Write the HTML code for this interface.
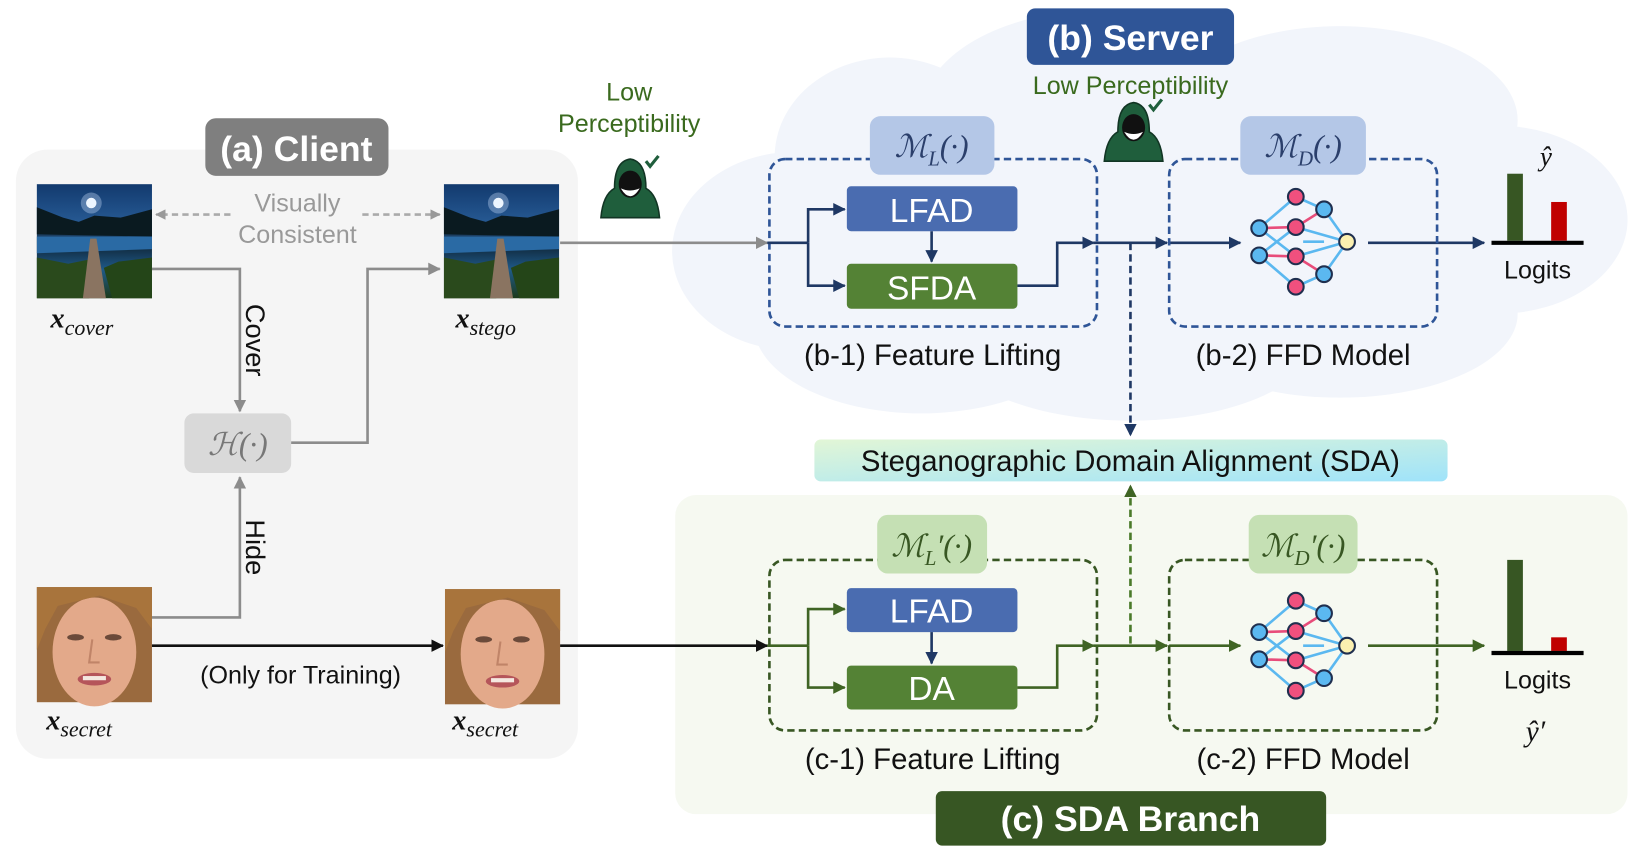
<!DOCTYPE html>
<html><head><meta charset="utf-8">
<style>
html,body{margin:0;padding:0;background:#fff;width:1633px;height:855px;overflow:hidden}
svg{display:block}
text{font-family:"Liberation Sans",sans-serif}
.m{font-family:"Liberation Serif","DejaVu Serif",serif;font-style:italic}
</style></head><body>
<svg width="1633" height="855" viewBox="0 0 1560 817" xmlns="http://www.w3.org/2000/svg">
<defs>
<marker id="aG" markerWidth="10" markerHeight="10" refX="9" refY="5" orient="auto" markerUnits="userSpaceOnUse"><path d="M0,0 L10,5 L0,10z" fill="#999"/></marker>
<marker id="aK" markerWidth="12" markerHeight="12" refX="11" refY="6" orient="auto" markerUnits="userSpaceOnUse"><path d="M0,0 L12,6 L0,12z" fill="#111"/></marker>
<marker id="aN" markerWidth="12" markerHeight="12" refX="11" refY="6" orient="auto" markerUnits="userSpaceOnUse"><path d="M0,0 L12,6 L0,12z" fill="#1f3864"/></marker>
<marker id="aV" markerWidth="12" markerHeight="12" refX="11" refY="6" orient="auto" markerUnits="userSpaceOnUse"><path d="M0,0 L12,6 L0,12z" fill="#3f6424"/></marker>
<marker id="aGr" markerWidth="12" markerHeight="12" refX="11" refY="6" orient="auto" markerUnits="userSpaceOnUse"><path d="M0,0 L12,6 L0,12z" fill="#8c8c8c"/></marker>
<linearGradient id="sky" x1="0" y1="0" x2="0" y2="1"><stop offset="0" stop-color="#123a6e"/><stop offset="0.4" stop-color="#2a5f9a"/><stop offset="0.5" stop-color="#0d1f2c"/><stop offset="0.75" stop-color="#1f5a8a"/><stop offset="1" stop-color="#1c3a1a"/></linearGradient>
<linearGradient id="sda" x1="0" y1="0" x2="1" y2="1"><stop offset="0" stop-color="#e2f6d6"/><stop offset="1" stop-color="#9fe3fa"/></linearGradient>
<g id="land">
<rect width="110" height="109" fill="url(#sky)"/>
<circle cx="52" cy="18" r="10" fill="#cfe3ff" opacity="0.35"/><circle cx="52" cy="18" r="5" fill="#eef6ff"/>
<path d="M0,22 L25,32 L40,36 L55,30 L80,32 L110,24 L110,50 L0,48z" fill="#0a1a20"/>
<path d="M0,50 L110,50 L110,62 L0,66z" fill="#2a6aa4"/>
<path d="M0,70 L30,76 L50,72 L60,80 L50,109 L0,109z" fill="#2a4a1c"/>
<path d="M110,70 L78,74 L64,80 L72,109 L110,109z" fill="#244518"/>
<path d="M51,52 L57,52 L66,109 L44,109z" fill="#8a7461"/>
</g>
<g id="face">
<rect width="110" height="110" fill="#9a6a3e"/>
<ellipse cx="55" cy="62" rx="40" ry="52" fill="#e3a98a"/>
<path d="M0,0 L110,0 L110,40 L95,20 L60,8 L20,18 L8,40 L0,60z" fill="#a8743c"/>
<ellipse cx="37" cy="48" rx="8" ry="3" fill="#6b4a3a"/><ellipse cx="73" cy="48" rx="8" ry="3" fill="#6b4a3a"/>
<path d="M53,50 L50,72 L60,72" stroke="#c08468" stroke-width="2" fill="none"/>
<ellipse cx="55" cy="88" rx="16" ry="6" fill="#b5555a"/><rect x="44" y="85" width="22" height="4" fill="#f4e8e0"/>
</g>
<g id="hack">
<path d="M-28,28 Q-26,6 -15,0 Q-15,-26 0,-28 Q15,-26 15,0 Q26,6 28,28z" fill="#1f5e3c" stroke="#123524" stroke-width="1.5"/>
<ellipse cx="0" cy="-4" rx="11" ry="13" fill="#111"/>
<path d="M-9,0 Q0,15 9,0 Q0,4 -9,0z" fill="#fff"/>
<path d="M15,-26 L19,-21 L27,-31" stroke="#1f5e3c" stroke-width="3" fill="none"/>
</g>
<g id="nn">
<g stroke="#5bb8f0" stroke-width="2.5">
<line x1="-37" y1="-13" x2="-2" y2="-43"/><line x1="-37" y1="13" x2="-2" y2="43"/>
<line x1="-37" y1="-13" x2="-2" y2="14"/><line x1="-37" y1="13" x2="-2" y2="-14"/>
<line x1="-2" y1="-43" x2="25" y2="-31"/><line x1="-2" y1="43" x2="25" y2="31"/>
<line x1="-2" y1="-14" x2="47" y2="0"/><line x1="-2" y1="14" x2="47" y2="0"/>
<line x1="25" y1="-31" x2="47" y2="0"/><line x1="25" y1="31" x2="47" y2="0"/>
<line x1="5" y1="0" x2="25" y2="0"/>
</g>
<g stroke="#e84c7a" stroke-width="2.5"><line x1="-37" y1="-13" x2="-2" y2="-14"/><line x1="-37" y1="13" x2="-2" y2="14"/><line x1="-2" y1="-14" x2="25" y2="-31"/><line x1="-2" y1="14" x2="25" y2="31"/></g>
<g stroke="#1f2f4f" stroke-width="2">
<circle cx="-37" cy="-13" r="7.5" fill="#5bb8f0"/><circle cx="-37" cy="13" r="7.5" fill="#5bb8f0"/>
<circle cx="-2" cy="-43" r="7.5" fill="#f0507e"/><circle cx="-2" cy="-14" r="7.5" fill="#f0507e"/>
<circle cx="-2" cy="14" r="7.5" fill="#f0507e"/><circle cx="-2" cy="43" r="7.5" fill="#f0507e"/>
<circle cx="25" cy="-31" r="7.5" fill="#5bb8f0"/><circle cx="25" cy="31" r="7.5" fill="#5bb8f0"/>
<circle cx="47" cy="0" r="7.5" fill="#fbf0b0"/>
</g>
</g>
</defs>

<!-- cloud -->
<g fill="#f2f5fb">
<ellipse cx="850" cy="150" rx="110" ry="95"/>
<ellipse cx="1050" cy="110" rx="170" ry="100"/>
<ellipse cx="1280" cy="115" rx="170" ry="90"/>
<ellipse cx="1430" cy="210" rx="125" ry="90"/>
<ellipse cx="760" cy="240" rx="118" ry="95"/>
<ellipse cx="880" cy="310" rx="160" ry="85"/>
<ellipse cx="1080" cy="320" rx="180" ry="82"/>
<ellipse cx="1280" cy="300" rx="170" ry="80"/>
<ellipse cx="1100" cy="220" rx="400" ry="120"/>
</g>

<!-- client panel -->
<rect x="15" y="143" width="537" height="582" rx="30" fill="#f5f5f5"/>
<rect x="196" y="113" width="175" height="55" rx="10" fill="#7f7f7f"/>
<text x="283" y="154" font-size="34" font-weight="bold" fill="#fff" text-anchor="middle">(a) Client</text>

<use href="#land" x="35" y="176"/>
<use href="#land" x="424" y="176"/>
<use href="#face" x="35" y="561"/>
<use href="#face" x="425" y="563"/>

<text x="48" y="313" class="m" font-size="24" fill="#111"><tspan font-weight="bold" font-size="27">x</tspan><tspan dy="7" font-size="21">cover</tspan></text>
<text x="435" y="313" class="m" font-size="24" fill="#111"><tspan font-weight="bold" font-size="27">x</tspan><tspan dy="7" font-size="21">stego</tspan></text>
<text x="44" y="697" class="m" font-size="24" fill="#111"><tspan font-weight="bold" font-size="27">x</tspan><tspan dy="7" font-size="21">secret</tspan></text>
<text x="432" y="697" class="m" font-size="24" fill="#111"><tspan font-weight="bold" font-size="27">x</tspan><tspan dy="7" font-size="21">secret</tspan></text>

<text x="284" y="202" font-size="24" fill="#999" text-anchor="middle">Visually</text>
<text x="284" y="232" font-size="24" fill="#999" text-anchor="middle">Consistent</text>
<line x1="220" y1="205" x2="149" y2="205" stroke="#aaa" stroke-width="2.5" stroke-dasharray="6,4" marker-end="url(#aG)"/>
<line x1="346" y1="205" x2="420" y2="205" stroke="#aaa" stroke-width="2.5" stroke-dasharray="6,4" marker-end="url(#aG)"/>

<polyline points="145,257 229,257 229,393" fill="none" stroke="#8c8c8c" stroke-width="2.5" marker-end="url(#aGr)"/>
<text transform="translate(235,325) rotate(90)" font-size="26" fill="#111" text-anchor="middle">Cover</text>
<rect x="176" y="395" width="102" height="57" rx="9" fill="#d9d9d9"/>
<text x="227" y="435" class="m" font-size="30" fill="#777" text-anchor="middle">ℋ(·)</text>
<polyline points="278,423 351,423 351,257 420,257" fill="none" stroke="#8c8c8c" stroke-width="2.5" marker-end="url(#aGr)"/>
<polyline points="145,590 229,590 229,456" fill="none" stroke="#8c8c8c" stroke-width="2.5" marker-end="url(#aGr)"/>
<text transform="translate(235,523) rotate(90)" font-size="26" fill="#111" text-anchor="middle">Hide</text>
<line x1="145" y1="617" x2="423" y2="617" stroke="#111" stroke-width="2.5" marker-end="url(#aK)"/>
<text x="287" y="653" font-size="24" fill="#111" text-anchor="middle">(Only for Training)</text>
<line x1="535" y1="232" x2="733" y2="232" stroke="#8c8c8c" stroke-width="2.5" marker-end="url(#aGr)"/>

<text x="601" y="96" font-size="24" fill="#3a6a1e" text-anchor="middle">Low</text>
<text x="601" y="126" font-size="24" fill="#3a6a1e" text-anchor="middle">Perceptibility</text>
<use href="#hack" x="602" y="180"/>
<use href="#hack" x="1083" y="126"/>

<!-- server -->
<rect x="981" y="8" width="198" height="54" rx="8" fill="#2f5597"/>
<text x="1080" y="48" font-size="34" font-weight="bold" fill="#fff" text-anchor="middle">(b) Server</text>
<text x="1080" y="90" font-size="24" fill="#3a6a1e" text-anchor="middle">Low Perceptibility</text>

<rect x="735" y="152" width="313" height="160" rx="15" fill="none" stroke="#2f5597" stroke-width="2.5" stroke-dasharray="7,4"/>
<rect x="831" y="111" width="119" height="56" rx="10" fill="#b4c7e7"/>
<text x="890" y="150" class="m" font-size="30" fill="#2b3f6b" text-anchor="middle">ℳ<tspan font-size="20" dy="8">L</tspan><tspan dy="-8">(·)</tspan></text>
<rect x="809" y="178" width="163" height="43" rx="4" fill="#4a6cb0"/>
<text x="890" y="212" font-size="32" fill="#fff" text-anchor="middle">LFAD</text>
<rect x="809" y="252" width="163" height="43" rx="4" fill="#548235"/>
<text x="890" y="286" font-size="32" fill="#fff" text-anchor="middle">SFDA</text>
<g stroke="#1f3864" stroke-width="2.5" fill="none">
<polyline points="733,232 772,232"/>
<polyline points="772,232 772,200 807,200" marker-end="url(#aN)"/>
<polyline points="772,232 772,273 807,273" marker-end="url(#aN)"/>
<line x1="890" y1="221" x2="890" y2="250" marker-end="url(#aN)"/>
<polyline points="972,273 1010,273 1010,232 1045,232" marker-end="url(#aN)"/>
<line x1="1045" y1="232" x2="1115" y2="232" marker-end="url(#aN)"/>
<line x1="1117" y1="232" x2="1185" y2="232" marker-end="url(#aN)"/>
<line x1="1307" y1="232" x2="1418" y2="232" marker-end="url(#aN)"/>
<line x1="1080" y1="232" x2="1080" y2="416" stroke-dasharray="7,4" marker-end="url(#aN)"/>
</g>
<rect x="1117" y="152" width="256" height="160" rx="15" fill="none" stroke="#2f5597" stroke-width="2.5" stroke-dasharray="7,4"/>
<rect x="1185" y="111" width="120" height="56" rx="10" fill="#b4c7e7"/>
<text x="1245" y="150" class="m" font-size="30" fill="#2b3f6b" text-anchor="middle">ℳ<tspan font-size="20" dy="8">D</tspan><tspan dy="-8">(·)</tspan></text>
<use href="#nn" x="1240" y="231"/>
<rect x="1440" y="166" width="15" height="64" fill="#375623"/>
<rect x="1482" y="193" width="15" height="37" fill="#c00000"/>
<line x1="1425" y1="232" x2="1513" y2="232" stroke="#000" stroke-width="4"/>
<text x="1477" y="158" class="m" font-size="26" fill="#111" text-anchor="middle">ŷ</text>
<text x="1469" y="266" font-size="24" fill="#111" text-anchor="middle">Logits</text>
<text x="891" y="349" font-size="28" fill="#111" text-anchor="middle">(b-1) Feature Lifting</text>
<text x="1245" y="349" font-size="28" fill="#111" text-anchor="middle">(b-2) FFD Model</text>

<!-- SDA -->
<rect x="645" y="473" width="910" height="305" rx="20" fill="#f6f9f1"/>
<line x1="535" y1="617" x2="733" y2="617" stroke="#111" stroke-width="2.5" marker-end="url(#aK)"/>
<rect x="778" y="420" width="605" height="40" rx="6" fill="url(#sda)"/>
<text x="1080" y="450" font-size="28" fill="#111" text-anchor="middle">Steganographic Domain Alignment (SDA)</text>
<line x1="1080" y1="615" x2="1080" y2="464" stroke="#4a7a2a" stroke-width="2.5" stroke-dasharray="7,4" marker-end="url(#aV)"/>

<rect x="735" y="535" width="313" height="163" rx="15" fill="none" stroke="#385723" stroke-width="2.5" stroke-dasharray="7,4"/>
<rect x="838" y="492" width="105" height="56" rx="10" fill="#c5e0b4"/>
<text x="890" y="532" class="m" font-size="30" fill="#385723" text-anchor="middle">ℳ<tspan font-size="20" dy="8">L</tspan><tspan dy="-8">′(·)</tspan></text>
<rect x="809" y="562" width="163" height="42" rx="4" fill="#4a6cb0"/>
<text x="890" y="595" font-size="32" fill="#fff" text-anchor="middle">LFAD</text>
<rect x="809" y="636" width="163" height="42" rx="4" fill="#548235"/>
<text x="890" y="669" font-size="32" fill="#fff" text-anchor="middle">DA</text>
<g stroke="#3f6424" stroke-width="2.5" fill="none">
<polyline points="733,617 772,617"/>
<polyline points="772,617 772,582 807,582" marker-end="url(#aV)"/>
<polyline points="772,617 772,657 807,657" marker-end="url(#aV)"/>
<polyline points="972,657 1010,657 1010,617 1045,617" marker-end="url(#aV)"/>
<line x1="1045" y1="617" x2="1115" y2="617" marker-end="url(#aV)"/>
<line x1="1117" y1="617" x2="1185" y2="617" marker-end="url(#aV)"/>
<line x1="1307" y1="617" x2="1418" y2="617" marker-end="url(#aV)"/>
</g>
<line x1="890" y1="604" x2="890" y2="634" stroke="#1f3864" stroke-width="2.5" marker-end="url(#aN)"/>
<rect x="1117" y="535" width="256" height="163" rx="15" fill="none" stroke="#385723" stroke-width="2.5" stroke-dasharray="7,4"/>
<rect x="1193" y="492" width="104" height="56" rx="10" fill="#c5e0b4"/>
<text x="1245" y="532" class="m" font-size="30" fill="#385723" text-anchor="middle">ℳ<tspan font-size="20" dy="8">D</tspan><tspan dy="-8">′(·)</tspan></text>
<use href="#nn" x="1240" y="617"/>
<rect x="1440" y="535" width="15" height="87" fill="#375623"/>
<rect x="1482" y="609" width="15" height="13" fill="#c00000"/>
<line x1="1425" y1="624" x2="1513" y2="624" stroke="#000" stroke-width="4"/>
<text x="1469" y="658" font-size="24" fill="#111" text-anchor="middle">Logits</text>
<text x="1467" y="708" class="m" font-size="28" fill="#111" text-anchor="middle">ŷ′</text>
<text x="891" y="735" font-size="28" fill="#111" text-anchor="middle">(c-1) Feature Lifting</text>
<text x="1245" y="735" font-size="28" fill="#111" text-anchor="middle">(c-2) FFD Model</text>

<rect x="894" y="756" width="373" height="52" rx="6" fill="#375623"/>
<text x="1080" y="794" font-size="34" font-weight="bold" fill="#fff" text-anchor="middle">(c) SDA Branch</text>
</svg>
</body></html>
